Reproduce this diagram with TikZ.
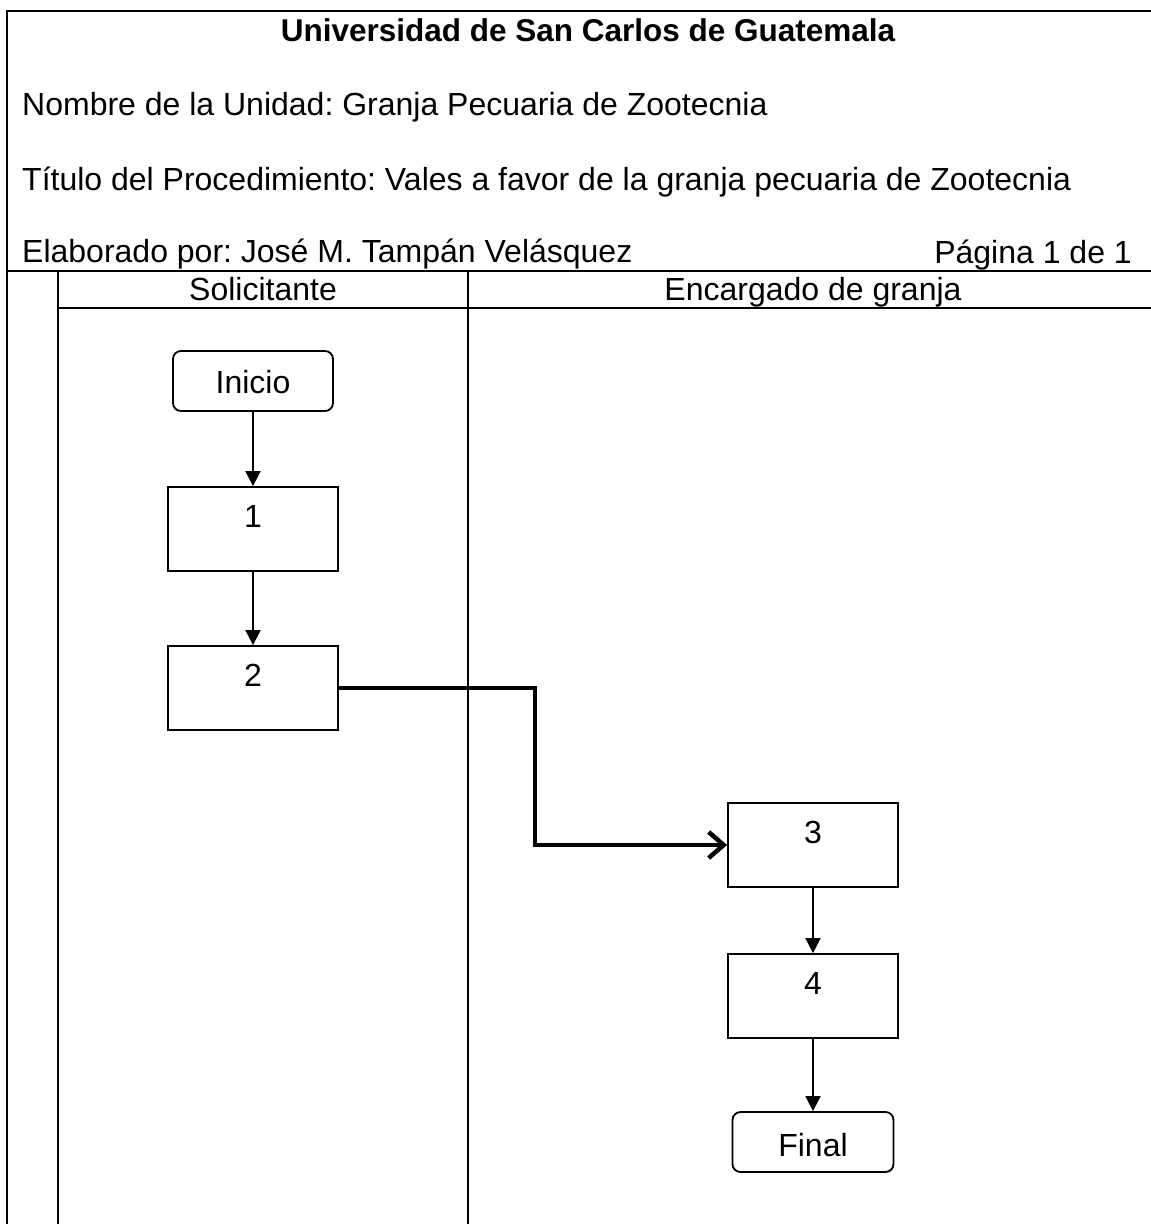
\documentclass[tikz,border=0pt]{standalone}
\usepackage{fontspec}
\setmainfont{Liberation Sans}
\usetikzlibrary{arrows.meta}
\frenchspacing
\begin{document}
\begin{tikzpicture}[x=1pt,y=-1pt,
  txt/.style={font=\fontsize{32}{38}\selectfont, inner sep=0pt},
  frameline/.style={line width=2pt},
  stepbox/.style={draw, line width=1.8pt, minimum width=170pt, minimum height=84pt, inner sep=0pt},
  termbox/.style={draw, line width=1.8pt, rounded corners=8pt, minimum width=160pt, minimum height=60pt, inner sep=0pt},
  boxlabel/.style={label={[txt, anchor=base, yshift=-41pt]north:#1}},
  flow/.style={line width=1.8pt, -{Triangle[width=15pt,length=15pt]}},
  bigflow/.style={line width=4.5pt, -{Straight Barb[width=26pt,length=15pt,line width=4.5pt]}}]
\useasboundingbox (0,0) rectangle (1151,1224);
\clip (0,0) rectangle (1151,1224);
\fill[white] (0,0) rectangle (1151,1224);
% frame
\draw[frameline] (7,1240) -- (7,11) -- (1170,11);
\draw[frameline] (7,271) -- (1170,271);
\draw[frameline] (58,271) -- (58,1240);
\draw[frameline] (58,308) -- (1170,308);
\draw[frameline] (468,271) -- (468,1240);
% header texts
\node[txt, font=\fontsize{31.5}{38}\selectfont\bfseries, anchor=base] (title) at (588,41) {Universidad de San Carlos de Guatemala};
\node[txt, anchor=base west] (unidad) at (22,115) {Nombre de la Unidad: Granja Pecuaria de Zootecnia};
\node[txt, anchor=base west] (titulo) at (22,190) {Título del Procedimiento: Vales a favor de la granja pecuaria de Zootecnia};
\node[txt, anchor=base west] (autor) at (22,262) {Elaborado por: José M. Tampán Velásquez};
\node[txt, anchor=base east] (pagina) at (1132,263) {Página 1 de 1};
\node[txt, anchor=base] (lane1) at (263,300) {Solicitante};
\node[txt, anchor=base] (lane2) at (813,300) {Encargado de granja};
% nodes
\node[termbox] (inicio) at (253,381) {};
\node[txt, anchor=base] (inicioT) at (253,393) {Inicio};
\node[stepbox, boxlabel=1] (b1) at (253,529) {};
\node[stepbox, boxlabel=2] (b2) at (253,688) {};
\node[stepbox, boxlabel=3] (b3) at (813,845) {};
\node[stepbox, boxlabel=4] (b4) at (813,996) {};
\node[termbox, minimum width=161pt] (final) at (813,1142) {};
\node[txt, anchor=base] (finalT) at (813,1156) {Final};
% connectors
\draw[flow] (inicio) -- (b1);
\draw[flow] (b1) -- (b2);
\coordinate (bend) at (535,688);
\draw[bigflow] (b2.east) -- (bend) |- (b3.west);
\draw[flow] (b3) -- (b4);
\draw[flow] (b4) -- (final);
\end{tikzpicture}
\end{document}
